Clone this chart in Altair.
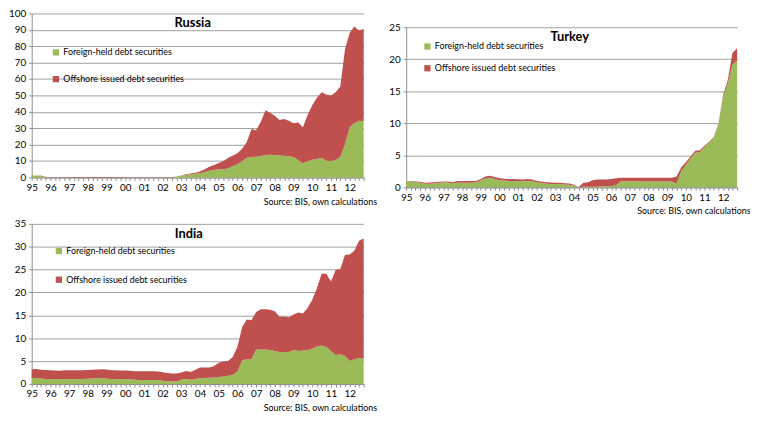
import altair as alt
import pandas as pd

# quarterly observations 1995Q1 .. 2012Q4 (72 quarters)
quarters = [1995 + i / 4 for i in range(72)]

series_names = ["Foreign-held debt securities", "Offshore issued debt securities"]
colors = ["#9BBB59", "#C0504D"]
source_note = "Source: BIS, own calculations"

# Russia, USD bn
russia_foreign = [1.1, 1.1, 1.0, 0.3, 0.0, 0.0, 0.0, 0.0, 0.0, 0.0, 0.0, 0.0,
                  0.0, 0.0, 0.0, 0.0, 0.0, 0.0, 0.0, 0.0, 0.0, 0.0, 0.0, 0.0,
                  0.0, 0.0, 0.0, 0.0, 0.0, 0.0, 0.1, 0.5, 1.0, 1.5, 1.9, 2.2,
                  2.5, 3.3, 4.0, 4.6, 4.8, 5.0, 5.5, 7.0, 8.0, 10.0, 12.0, 12.5,
                  12.6, 13.0, 13.6, 13.8, 13.6, 13.4, 13.2, 12.9, 12.4, 10.6, 8.6, 9.8,
                  10.8, 11.3, 12.0, 10.2, 10.0, 10.6, 12.6, 20.0, 30.6, 33.0, 34.6, 34.2]
russia_total = [1.2, 1.2, 1.1, 0.4, 0.1, 0.1, 0.1, 0.1, 0.3, 0.3, 0.3, 0.3,
                0.3, 0.3, 0.3, 0.3, 0.3, 0.3, 0.3, 0.3, 0.1, 0.1, 0.1, 0.1,
                0.1, 0.1, 0.1, 0.1, 0.1, 0.1, 0.3, 0.6, 1.2, 2.0, 2.4, 2.8,
                3.6, 5.0, 6.5, 7.6, 8.8, 10.0, 11.8, 13.3, 14.8, 17.5, 21.6, 29.5,
                28.8, 34.0, 41.0, 39.5, 37.5, 35.0, 35.6, 34.5, 33.0, 33.5, 30.6, 38.0,
                44.0, 48.5, 52.0, 50.6, 50.0, 52.0, 55.5, 78.0, 88.0, 92.0, 89.6, 90.5]

# Turkey, USD bn
turkey_foreign = [1.0, 0.9, 0.8, 0.7, 0.55, 0.55, 0.6, 0.7, 0.8, 0.75, 0.6, 0.7,
                  0.7, 0.7, 0.7, 0.75, 1.1, 1.4, 1.5, 1.3, 1.1, 1.05, 1.0, 1.0,
                  1.0, 0.9, 1.0, 0.95, 0.75, 0.7, 0.55, 0.5, 0.5, 0.5, 0.45, 0.4,
                  0.25, 0.0, 0.1, 0.1, 0.1, 0.1, 0.15, 0.2, 0.2, 0.3, 0.9, 0.95,
                  0.95, 0.95, 0.9, 0.9, 0.9, 0.9, 0.9, 0.9, 0.9, 0.9, 0.6, 2.5,
                  3.5, 4.5, 5.4, 5.5, 6.3, 7.0, 7.8, 9.9, 14.2, 16.3, 19.2, 19.8]
turkey_total = [1.0, 1.0, 0.9, 0.85, 0.7, 0.75, 0.8, 0.85, 0.9, 0.9, 0.8, 1.0,
                1.0, 1.0, 1.0, 1.0, 1.3, 1.7, 1.8, 1.6, 1.4, 1.35, 1.3, 1.3,
                1.25, 1.2, 1.3, 1.2, 1.0, 0.9, 0.8, 0.75, 0.7, 0.7, 0.65, 0.6,
                0.4, 0.05, 0.7, 0.8, 1.1, 1.2, 1.2, 1.2, 1.3, 1.4, 1.5, 1.5,
                1.5, 1.5, 1.5, 1.5, 1.5, 1.5, 1.5, 1.5, 1.5, 1.5, 1.7, 3.1,
                3.9, 4.8, 5.7, 5.8, 6.5, 7.1, 7.9, 10.0, 14.5, 16.8, 21.0, 21.7]

# India, USD bn
india_foreign = [1.3, 1.3, 1.2, 1.1, 1.05, 1.0, 1.0, 1.05, 1.1, 1.1, 1.1, 1.1,
                 1.15, 1.2, 1.25, 1.3, 1.2, 1.1, 1.05, 1.05, 1.0, 1.0, 0.9, 0.85,
                 0.85, 0.85, 0.85, 0.85, 0.7, 0.6, 0.55, 0.55, 0.9, 1.1, 0.9, 1.1,
                 1.3, 1.3, 1.35, 1.4, 1.5, 1.6, 1.8, 2.0, 2.7, 5.2, 5.4, 5.4,
                 7.5, 7.5, 7.5, 7.4, 7.2, 7.0, 6.9, 7.0, 7.4, 7.2, 7.3, 7.4,
                 7.7, 8.2, 8.4, 8.1, 7.2, 6.3, 6.5, 6.1, 5.0, 5.4, 5.6, 5.6]
india_total = [3.2, 3.25, 3.1, 3.05, 3.0, 2.95, 2.9, 3.0, 3.0, 3.0, 3.0, 3.0,
               3.05, 3.1, 3.15, 3.2, 3.15, 3.0, 3.0, 2.95, 2.95, 2.9, 2.75, 2.75,
               2.75, 2.75, 2.75, 2.7, 2.55, 2.4, 2.3, 2.3, 2.5, 2.8, 2.6, 3.1,
               3.6, 3.6, 3.6, 3.9, 4.6, 4.9, 5.0, 5.9, 8.1, 12.4, 14.1, 13.9,
               15.7, 16.3, 16.3, 16.2, 15.9, 14.7, 14.7, 14.6, 15.2, 15.6, 15.4, 16.6,
               18.4, 20.9, 24.1, 24.1, 22.4, 24.9, 25.1, 28.2, 28.3, 29.1, 31.3, 31.8]


def make_frame(foreign, total):
    df = pd.DataFrame({'t': quarters, 'foreign': foreign, 'total': total})
    df['offshore'] = df['total'] - df['foreign']        # red band sits on top of green
    df = (df.loc[:, ['t', 'foreign', 'offshore']]
            .rename(columns={'foreign': series_names[0], 'offshore': series_names[1]})
            .melt('t', var_name='series'))
    df['ord'] = df['series'].map({series_names[0]: 0, series_names[1]: 1})
    return df


def panel(name, df, ymax, ystep, width, height, title_dx, legend_x, legend_y, row_pad):
    x_axis = alt.Axis(values=quarters, labelExpr="datum.value % 1 == 0 ? ((datum.value % 100) < 10 ? '0' : '') + (datum.value % 100) : ''",
                      labelOverlap=False, labelFlush=False, labelFont='Lato', labelFontSize=10, labelColor='black', labelPadding=2,
                      grid=False, tickSize=3, tickColor='#8C8C8C', domainColor='#8C8C8C',
                      title=source_note, titleFont='Lato', titleFontSize=9, titleFontWeight='normal', titleColor='black',
                      titleAlign='right', titleBaseline='middle', titleX=width + 13, titleY=24)
    y_axis = alt.Axis(values=list(range(0, ymax + 1, ystep)), title=None, labelFont='Lato', labelFontSize=10,
                      labelColor='black', labelPadding=3, tickSize=3, tickColor='#8C8C8C', domainColor='#8C8C8C',
                      gridColor='#A0A0A0', gridWidth=1)
    areas = (
        alt.Chart(df)
        .mark_area(interpolate='linear')
        .encode(
            x=alt.X('t:Q', scale=alt.Scale(domain=[1995, 2012.75], nice=False, zero=False), axis=x_axis),
            y=alt.Y('value:Q', stack='zero', scale=alt.Scale(domain=[0, ymax], nice=False), axis=y_axis),
            color=alt.Color('series:N', scale=alt.Scale(domain=series_names, range=colors),
                            legend=alt.Legend(orient='none', legendX=legend_x, legendY=legend_y, title=None,
                                              symbolType='square', symbolSize=40, symbolStrokeWidth=0,
                                              labelFont='Lato', labelFontSize=9, labelColor='black',
                                              labelOffset=3, rowPadding=row_pad)),
            order=alt.Order('ord:Q'),
        )
    )
    # country name inside the plot, near the top
    label = (
        alt.Chart(pd.DataFrame({'name': [name]}))
        .mark_text(font='Lato', fontSize=13, fontWeight='bold', color='black', align='center', baseline='middle')
        .encode(text='name:N', x=alt.value(width / 2 + title_dx), y=alt.value(10))
    )
    return alt.layer(areas, label).properties(width=width, height=height)


russia = panel('Russia', make_frame(russia_foreign, russia_total), 100, 10, 336, 166, -5, 20, 35, 17)
turkey = panel('Turkey', make_frame(turkey_foreign, turkey_total), 25, 5, 335, 162, -2, 17, 15, 12)
india = panel('India', make_frame(india_foreign, india_total), 35, 5, 336, 162, -9, 23, 23, 19)

# empty strip that drops the Turkey panel a little below Russia
spacer = (alt.Chart(pd.DataFrame({'a': [0]}))
          .mark_point(opacity=0, size=1)
          .encode(x=alt.value(0), y=alt.value(0))
          .properties(width=10, height=9))

right_col = alt.vconcat(spacer, turkey, spacing=0).resolve_scale(color='independent').resolve_legend(color='independent')
top_row = alt.hconcat(russia, right_col, spacing=12).resolve_scale(color='independent').resolve_legend(color='independent')

chart = (
    alt.vconcat(top_row, india, spacing=3)
    .resolve_scale(color='independent')
    .resolve_legend(color='independent')
    .properties(padding={'top': -2, 'left': 0, 'right': 0, 'bottom': 0})
    .configure_view(strokeWidth=0)
)

chart.save("out.html", embed_options={"renderer": "svg", "actions": False})
